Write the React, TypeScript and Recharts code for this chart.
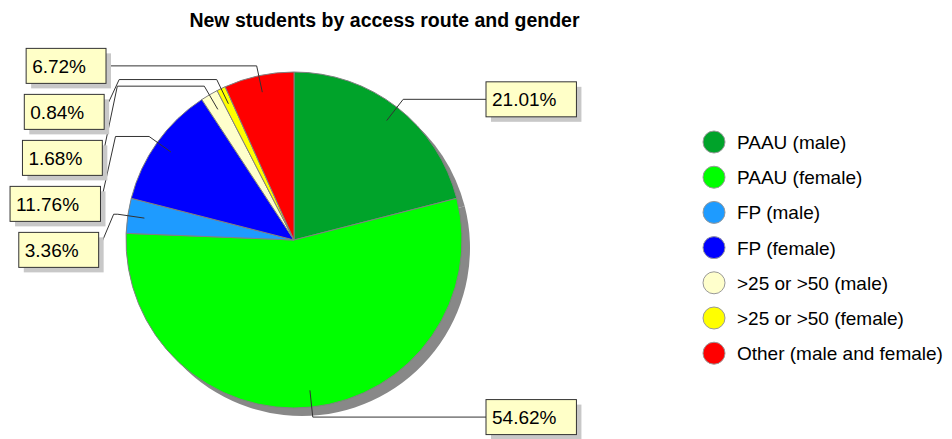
import { PieChart, Pie, Cell, Legend } from "recharts";

const routeNames = [
  "PAAU (male)",
  "PAAU (female)",
  "FP (male)",
  "FP (female)",
  ">25 or >50 (male)",
  ">25 or >50 (female)",
  "Other (male and female)",
];
const studentCounts = [25, 65, 4, 14, 2, 1, 8];
const sliceColors = [
  "#00a32a",
  "#00ff00",
  "#1e9bff",
  "#0000ff",
  "#ffffcc",
  "#ffff00",
  "#ff0000",
];

const WIDTH = 952;
const HEIGHT = 439;
const CX = 294;
const CY = 240;
const R = 168;
const RAD = Math.PI / 180;
const FONT = "'Liberation Sans', Arial, sans-serif";
const LABEL_FONT = 19;
const BOX_H = 35;

const data = routeNames.map((name, i) => ({ name, value: studentCounts[i] }));

// mid angles the same way the pie lays them out, to stack the left-hand boxes
const total = studentCounts.reduce((a, b) => a + b, 0);
const midAngles: number[] = [];
{
  let cum = 0;
  studentCounts.forEach((v) => {
    midAngles.push(90 - (360 * (cum + v / 2)) / total);
    cum += v;
  });
}
const leftBoxY: Record<number, number> = {};
{
  const left = midAngles
    .map((m, i) => ({ i, ey: CY - R * 1.06 * Math.sin(m * RAD), c: Math.cos(m * RAD) }))
    .filter((d) => d.c < 0)
    .sort((a, b) => a.ey - b.ey);
  let prev = -Infinity;
  left.forEach((d) => {
    const y = Math.max(d.ey, prev + 46);
    leftBoxY[d.i] = y;
    prev = y;
  });
}

const charW: Record<string, number> = { ".": 0.278, "%": 0.889 };
const textWidth = (s: string) =>
  s.split("").reduce((w, ch) => w + (charW[ch] ?? 0.556), 0) * LABEL_FONT;

const renderLabel = (props: any) => {
  const { cx, cy, midAngle, outerRadius, percent, index } = props;
  const cos = Math.cos(-midAngle * RAD);
  const sin = Math.sin(-midAngle * RAD);
  const sx = cx + outerRadius * 0.9 * cos;
  const sy = cy + outerRadius * 0.9 * sin;
  const ex = cx + outerRadius * 1.06 * cos;
  const ey = cy + outerRadius * 1.06 * sin;
  const text = `${(percent * 100).toFixed(2)}%`;
  const w = textWidth(text) + 26;

  let boxX: number;
  let boxY: number;
  let path: string;
  if (cos >= 0) {
    boxX = cx + outerRadius + 24;
    boxY = ey;
    path = `M${sx},${sy}L${ex},${ey}L${boxX},${ey}`;
  } else {
    boxY = leftBoxY[index] ?? ey;
    // box edges drift slightly left going down
    const right = cx - outerRadius - 20 - (boxY - 66) / 25;
    boxX = right - w;
    path =
      Math.abs(boxY - ey) < 1
        ? `M${sx},${sy}L${ex},${ey}L${right},${ey}`
        : `M${sx},${sy}L${ex},${ey}L${right + 15},${ey}L${right},${boxY}`;
  }

  return (
    <g key={`lbl-${index}`}>
      <path d={path} stroke="#333" strokeWidth={1} fill="none" />
      <rect x={boxX + 5} y={boxY - BOX_H / 2 + 5} width={w} height={BOX_H} fill="#c8c8c8" />
      <rect
        x={boxX}
        y={boxY - BOX_H / 2}
        width={w}
        height={BOX_H}
        fill="#ffffc8"
        stroke="#333"
        strokeWidth={1}
      />
      <text
        x={boxX + 6}
        y={boxY + 7}
        fontSize={LABEL_FONT}
        fontFamily={FONT}
        fill="#000"
      >
        {text}
      </text>
    </g>
  );
};

const LegendContent = () => (
  <svg width={262} height={250}>
    {routeNames.map((name, i) => (
      <g key={name}>
        <circle cx={24} cy={17 + i * 35.2} r={11} fill={sliceColors[i]} stroke="#999" strokeWidth={1} />
        <text x={47} y={24 + i * 35.2} fontSize={19} fontFamily={FONT} fill="#000">
          {name}
        </text>
      </g>
    ))}
  </svg>
);

export default function App() {
  return (
    <div style={{ position: "absolute", left: 0, top: 0, width: WIDTH, height: HEIGHT, background: "#fff" }}>
      <div
        style={{
          position: "absolute",
          left: 0,
          top: 9,
          width: 769,
          textAlign: "center",
          fontFamily: FONT,
          fontWeight: "bold",
          fontSize: 19.5,
          lineHeight: "22px",
          color: "#000",
          zIndex: 2,
        }}
      >
        New students by access route and gender
      </div>
      <PieChart width={WIDTH} height={HEIGHT} margin={{ top: 0, right: 0, bottom: 0, left: 0 }}>
        <Pie
          data={data}
          dataKey="value"
          cx={CX + 8}
          cy={CY + 8}
          outerRadius={R}
          startAngle={90}
          endAngle={-270}
          fill="#888"
          stroke="none"
          isAnimationActive={false}
          legendType="none"
        />
        <Pie
          data={data}
          dataKey="value"
          nameKey="name"
          cx={CX}
          cy={CY}
          outerRadius={R}
          startAngle={90}
          endAngle={-270}
          stroke="#808080"
          strokeWidth={1}
          label={renderLabel}
          labelLine={false}
          isAnimationActive={false}
        >
          {data.map((d, i) => (
            <Cell key={d.name} fill={sliceColors[i]} />
          ))}
        </Pie>
        <Legend
          content={<LegendContent />}
          wrapperStyle={{ position: "absolute", left: 690, top: 125, width: 262, height: 250 }}
        />
      </PieChart>
    </div>
  );
}
